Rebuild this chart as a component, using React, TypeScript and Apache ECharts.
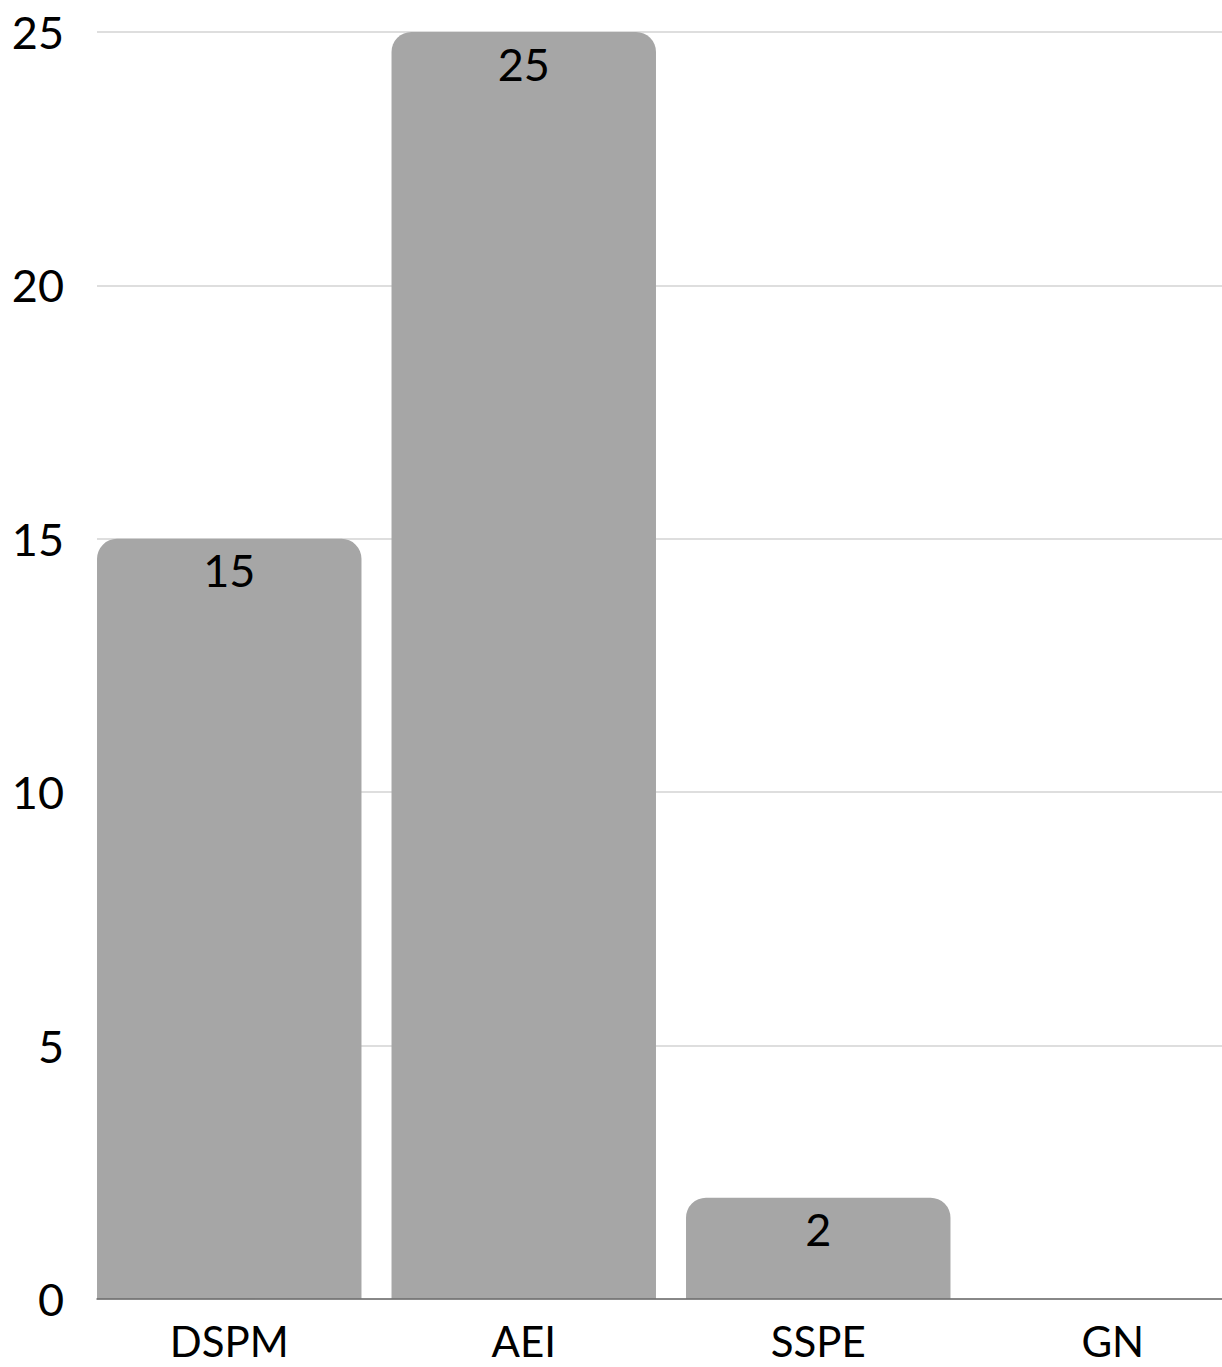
import React, { useEffect, useRef } from "react";
import * as echarts from "echarts";

const categories = ["DSPM", "AEI", "SSPE", "GN"];
const values = [15, 25, 2, 0];
const yTicks = { min: 0, max: 25, interval: 5 };

const FONT = "Lato, 'Open Sans', sans-serif";

export default function App() {
  const ref = useRef<HTMLDivElement>(null);
  useEffect(() => {
    if (!ref.current) return;
    const chart = echarts.init(ref.current, null, { renderer: "svg" });
    chart.setOption({
      animation: false,
      grid: [
        { left: 97, right: 38, top: 32, bottom: 68 },
        { left: 82, right: 0, top: 32, bottom: 68 },
      ],
      xAxis: [
        {
          gridIndex: 0,
          type: "category",
          data: categories,
          axisLabel: { show: false },
          axisTick: { show: false },
          axisLine: { show: true, lineStyle: { color: "#6b6b6b", width: 1.5 } },
          z: 5,
        },
        {
          gridIndex: 1,
          type: "category",
          data: categories,
          axisLine: { show: false },
          axisTick: { show: false },
          axisLabel: {
            fontSize: 42,
            lineHeight: 42,
            color: "#000",
            margin: 21,
            fontFamily: FONT,
          },
        },
      ],
      yAxis: [
        {
          gridIndex: 0,
          type: "value",
          min: yTicks.min,
          max: yTicks.max,
          interval: yTicks.interval,
          axisLine: { show: false },
          axisTick: { show: false },
          splitLine: { lineStyle: { color: "#d3d3d3", width: 1.5 } },
          axisLabel: { fontSize: 45, color: "#000", margin: 33, fontFamily: FONT },
        },
        {
          gridIndex: 1,
          type: "value",
          min: yTicks.min,
          max: yTicks.max,
          interval: yTicks.interval,
          show: false,
        },
      ],
      series: [
        {
          type: "bar",
          xAxisIndex: 1,
          yAxisIndex: 1,
          data: values,
          barCategoryGap: "10.2%",
          itemStyle: { color: "#a6a6a6", borderRadius: [20, 20, 0, 0] },
          label: {
            show: true,
            position: "insideTop",
            distance: 9,
            fontSize: 45,
            color: "#000",
            fontFamily: FONT,
            formatter: (p: any) => (p.value === 0 ? "" : String(p.value)),
          },
        },
      ],
    });
    return () => chart.dispose();
  }, []);
  return (
    <div style={{ position: "absolute", left: 0, top: 0, width: 1222, height: 1367, overflow: "hidden" }}>
      <div ref={ref} style={{ width: 1260, height: 1367 }} />
    </div>
  );
}
